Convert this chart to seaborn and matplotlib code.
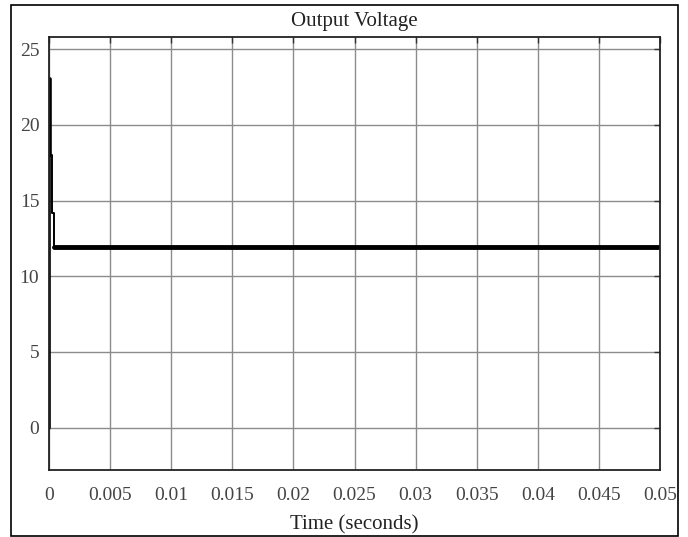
import matplotlib
matplotlib.use("Agg")
import matplotlib.pyplot as plt
import seaborn as sns
import pandas as pd
from matplotlib.patches import Rectangle

# Data
time_s = [0.0, 0.0, 0.00012, 0.00012, 0.00028, 0.00028, 0.00042, 0.00042, 0.05]
voltage = [0.0, 23.0, 23.0, 18.0, 18.0, 14.2, 14.2, 11.9, 11.9]
x_ticks = [0, 0.005, 0.01, 0.015, 0.02, 0.025, 0.03, 0.035, 0.04, 0.045, 0.05]
x_tick_labels = ["0", "0.005", "0.01", "0.015", "0.02", "0.025", "0.03", "0.035", "0.04", "0.045", "0.05"]
y_ticks = [0, 5, 10, 15, 20, 25]

sns.set_theme(style="white")
plt.rcParams["font.family"] = ["Liberation Serif", "DejaVu Serif"]

df = pd.DataFrame({"Time": time_s, "Voltage": voltage})

fig = plt.figure(figsize=(6.88, 5.37), dpi=100)
ax = fig.add_axes([49/688, 1 - 470/537, (660 - 49)/688, (470 - 37)/537])

# transient part thinner, steady part thick
sns.lineplot(data=df, x="Time", y="Voltage", ax=ax, color="black", linewidth=1.4,
             estimator=None, sort=False)
sns.lineplot(data=df.iloc[-2:], x="Time", y="Voltage", ax=ax, color="black", linewidth=3.5,
             estimator=None, sort=False)
sns.lineplot(data=df.iloc[:4], x="Time", y="Voltage", ax=ax, color="black", linewidth=2.6,
             estimator=None, sort=False)

ax.set_xlim(0, 0.05)
ax.set_ylim(-2.8, 25.8)
ax.set_xticks(x_ticks)
ax.set_xticklabels(x_tick_labels)
ax.set_yticks(y_ticks)
ax.grid(True, color="#8c8c8c", linewidth=1.0)
ax.tick_params(direction="in", length=4, width=1, color="#333333", top=True, right=True,
               labelsize=14, labelcolor="#444444")
ax.tick_params(axis="x", pad=12)
ax.tick_params(axis="y", pad=7)
for s in ax.spines.values():
    s.set_color("#222222")
    s.set_linewidth(1.3)

ax.set_title("Output Voltage", fontsize=15, color="#222222", pad=8)
ax.set_xlabel("Time (seconds)", fontsize=15, color="#222222", labelpad=8)
ax.set_ylabel("")

fig.patches.append(Rectangle((11/688, 1 - 536/537), (678 - 11)/688, (536 - 5)/537,
                             transform=fig.transFigure, fill=False, edgecolor="black",
                             linewidth=1.2))

fig.savefig("out.png", dpi=100, facecolor="white")
